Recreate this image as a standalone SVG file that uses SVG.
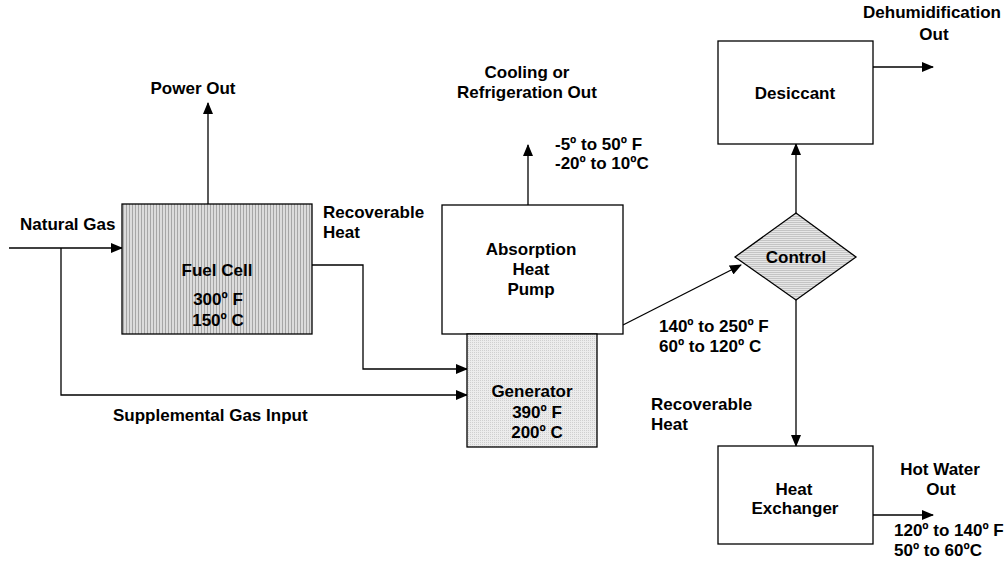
<svg xmlns="http://www.w3.org/2000/svg" width="1008" height="563" viewBox="0 0 1008 563">
<style>
text{font-family:"Liberation Sans",Arial,sans-serif;font-weight:bold;font-size:17px;fill:#000}
.c{text-anchor:middle}
.box{stroke:#000;stroke-width:1.3}
.ln{fill:none;stroke:#000;stroke-width:1.3}
</style>
<defs>
<marker id="ah" markerUnits="userSpaceOnUse" markerWidth="12" markerHeight="10" refX="11" refY="5" orient="auto">
<path d="M0,0 L12,5 L0,10 Z" fill="#000"/>
</marker>
<pattern id="vstripe" width="3" height="3" patternUnits="userSpaceOnUse">
<rect width="3" height="3" fill="#dcdcdc"/>
<rect width="1" height="3" fill="#a6a6a6"/>
</pattern>
<pattern id="dots" width="2" height="2" patternUnits="userSpaceOnUse">
<rect width="2" height="2" fill="#ececec"/>
<rect width="1" height="1" fill="#cfcfcf"/>
</pattern>
<pattern id="hstripe" width="3" height="2" patternUnits="userSpaceOnUse">
<rect width="3" height="2" fill="#e6e6e6"/>
<rect width="3" height="1" fill="#c4c4c4"/>
</pattern>
</defs>
<rect width="1008" height="563" fill="#fff"/>

<g id="connectors">
<path class="ln" d="M9,248 H122" marker-end="url(#ah)"/>
<path class="ln" d="M61,248 V395 H467" marker-end="url(#ah)"/>
<path class="ln" d="M208,204 V103" marker-end="url(#ah)"/>
<path class="ln" d="M312,265 H363 V369 H467" marker-end="url(#ah)"/>
<path class="ln" d="M528,205 V145" marker-end="url(#ah)"/>
<path class="ln" d="M623,325 L741,265" stroke-width="2" marker-end="url(#ah)"/>
<path class="ln" d="M796,213 V144" marker-end="url(#ah)"/>
<path class="ln" d="M873,67 H933" marker-end="url(#ah)"/>
<path class="ln" d="M796,300 V446" marker-end="url(#ah)"/>
<path class="ln" d="M873,515 H933" marker-end="url(#ah)"/>
</g>

<g id="fuel-cell">
<rect class="box" x="122" y="204" width="190" height="130" fill="url(#vstripe)"/>
<text class="c" x="217" y="276">Fuel Cell</text>
<text class="c" x="218" y="305">300º F</text>
<text class="c" x="218" y="326">150º C</text>
</g>

<g id="absorption-heat-pump">
<rect class="box" x="442" y="205" width="181" height="129" fill="#fff"/>
<text class="c" x="531" y="255">Absorption</text>
<text class="c" x="531" y="275">Heat</text>
<text class="c" x="531" y="295">Pump</text>
</g>

<g id="generator">
<rect class="box" x="467" y="334" width="130" height="113" fill="url(#dots)"/>
<text class="c" x="532" y="397">Generator</text>
<text class="c" x="537" y="418">390º F</text>
<text class="c" x="537" y="438">200º C</text>
</g>

<g id="control">
<polygon class="box" points="735,257 796,213 856,257 796,300" fill="url(#hstripe)"/>
<text class="c" x="796" y="263">Control</text>
</g>

<g id="desiccant">
<rect class="box" x="718" y="41" width="155" height="103" fill="#fff"/>
<text class="c" x="795" y="99">Desiccant</text>
</g>

<g id="heat-exchanger">
<rect class="box" x="718" y="446" width="155" height="98" fill="#fff"/>
<text class="c" x="794" y="495">Heat</text>
<text class="c" x="795" y="514">Exchanger</text>
</g>

<g id="labels">
<text class="c" x="193" y="94">Power Out</text>
<text x="20" y="230">Natural Gas</text>
<text x="323" y="218">Recoverable</text>
<text x="323" y="238">Heat</text>
<text class="c" x="527" y="78">Cooling or</text>
<text class="c" x="527" y="98">Refrigeration Out</text>
<text x="555" y="150">-5º to 50º F</text>
<text x="555" y="169">-20º to 10ºC</text>
<text x="113" y="421">Supplemental Gas Input</text>
<text x="659" y="332">140º to 250º F</text>
<text x="659" y="352">60º to 120º C</text>
<text x="651" y="410">Recoverable</text>
<text x="651" y="430">Heat</text>
<text class="c" x="932" y="18">Dehumidification</text>
<text class="c" x="934" y="40">Out</text>
<text class="c" x="940" y="475">Hot Water</text>
<text class="c" x="941" y="495">Out</text>
<text x="894" y="536">120º to 140º F</text>
<text x="894" y="556">50º to 60ºC</text>
</g>
</svg>
